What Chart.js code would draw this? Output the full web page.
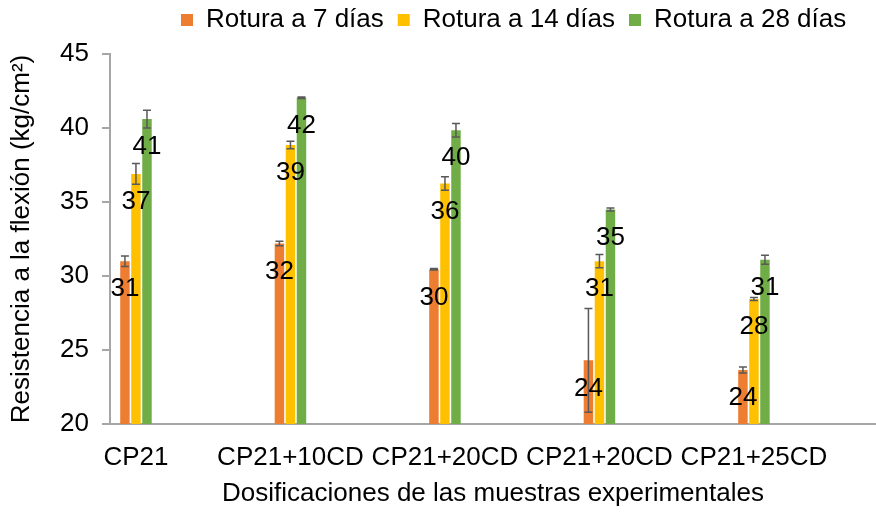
<!DOCTYPE html>
<html><head><meta charset="utf-8">
<script src="https://cdn.jsdelivr.net/npm/chart.js@4/dist/chart.umd.min.js"></script>
<style>html,body{margin:0;padding:0;background:#fff}#wrap{width:876px;height:512px;position:relative}</style>
</head><body><div id="wrap"><canvas id="c"></canvas></div>
<script>
const categories = ['CP21', 'CP21+10CD', 'CP21+20CD', 'CP21+20CD', 'CP21+25CD'];
const seriesNames = ['Rotura a 7 días', 'Rotura a 14 días', 'Rotura a 28 días'];
const rotura7 = [31.0, 32.2, 30.45, 24.3, 23.65];
const rotura14 = [36.9, 38.85, 36.25, 31.0, 28.45];
const rotura28 = [40.6, 42.05, 39.85, 34.5, 31.1];
const err7 = [0.35, 0.15, 0.05, 3.5, 0.2];
const err14 = [0.7, 0.25, 0.45, 0.45, 0.1];
const err28 = [0.6, 0.05, 0.45, 0.1, 0.3];
const yTicks = [20, 25, 30, 35, 40, 45];

const FONT = "'Liberation Sans', Arial, sans-serif";
const FS = 26;
Chart.defaults.font.family = FONT;
Chart.defaults.font.size = FS;
Chart.defaults.color = '#000';

const colors = ['#ED7D31', '#FFC000', '#70AD47'];
const seriesValues = [rotura7, rotura14, rotura28];
const seriesErrors = [err7, err14, err28];

const datasets = seriesNames.map((name, s) => ({
  label: name,
  data: seriesValues[s].map((v, i) => ({x: i, y: v})),
  errors: seriesErrors[s],
  backgroundColor: colors[s],
  borderColor: colors[s],
  borderWidth: 0,
  barPercentage: 0.86,
  categoryPercentage: 0.214
}));

const legendPlace = {
  id: 'legendPlace',
  afterLayout(chart) {
    const lg = chart.legend;
    if (!lg) return;
    const dx = 167 - lg.left, dy = -11;
    lg.left += dx; lg.right += dx;
    lg.top += dy; lg.bottom += dy;
  }
};

const errorBars = {
  id: 'errorBars',
  afterDatasetsDraw(chart) {
    const ctx = chart.ctx, y = chart.scales.y;
    ctx.save();
    ctx.strokeStyle = '#595959';
    ctx.lineWidth = 1.5;
    chart.data.datasets.forEach((ds, di) => {
      const meta = chart.getDatasetMeta(di);
      meta.data.forEach((el, i) => {
        const v = ds.data[i].y, e = ds.errors[i];
        const yt = y.getPixelForValue(v + e), yb = y.getPixelForValue(v - e);
        const x = el.x;
        ctx.beginPath();
        ctx.moveTo(x, yt); ctx.lineTo(x, yb);
        ctx.moveTo(x - 4, yt); ctx.lineTo(x + 4, yt);
        ctx.moveTo(x - 4, yb); ctx.lineTo(x + 4, yb);
        ctx.stroke();
      });
    });
    // data labels
    ctx.fillStyle = '#000';
    ctx.font = FS + 'px ' + FONT;
    ctx.textAlign = 'center';
    ctx.textBaseline = 'middle';
    chart.data.datasets.forEach((ds, di) => {
      const meta = chart.getDatasetMeta(di);
      meta.data.forEach((el, i) => {
        const v = ds.data[i].y;
        ctx.fillText(String(Math.round(v)), el.x, y.getPixelForValue(v) + 28);
      });
    });
    ctx.restore();
  }
};

new Chart(document.getElementById('c'), {
  type: 'bar',
  data: {datasets},
  plugins: [legendPlace, errorBars],
  options: {
    responsive: true,
    maintainAspectRatio: false,
    animation: false,
    layout: {padding: {top: 4, right: 0, bottom: 0, left: 0}},
    plugins: {
      legend: {
        position: 'top',
        align: 'start',
        labels: {boxWidth: 12, boxHeight: 12, padding: 14, color: '#000', font: {size: FS}}
      },
      tooltip: {enabled: false}
    },
    scales: {
      x: {
        type: 'linear',
        min: -0.168,
        max: 4.79,
        offset: false,
        grid: {display: false, drawTicks: false},
        border: {display: true, color: '#A6A6A6', width: 2},
        ticks: {
          stepSize: 1, includeBounds: false, autoSkip: false, maxRotation: 0, padding: 18,
          color: '#000', font: {size: FS},
          callback: v => Number.isInteger(v) ? categories[v] : ''
        },
        title: {display: true, text: 'Dosificaciones de las muestras experimentales', color: '#000', font: {size: FS}, padding: {top: 2, bottom: 3}},
        afterFit: s => { s.height = 88; }
      },
      y: {
        min: 20, max: 45,
        grid: {display: true, drawOnChartArea: false, drawTicks: true, tickLength: 8, color: '#A6A6A6', lineWidth: 2},
        border: {display: true, color: '#A6A6A6', width: 2},
        afterBuildTicks: s => { s.ticks = yTicks.map(v => ({value: v})); },
        ticks: {padding: 13, color: '#000', font: {size: FS}},
        title: {display: true, text: 'Resistencia a la flexión (kg/cm²)', color: '#000', font: {size: FS}, padding: {top: 6, bottom: 0}},
        afterFit: s => { s.width = 110; }
      }
    }
  }
});
</script>
</body></html>
